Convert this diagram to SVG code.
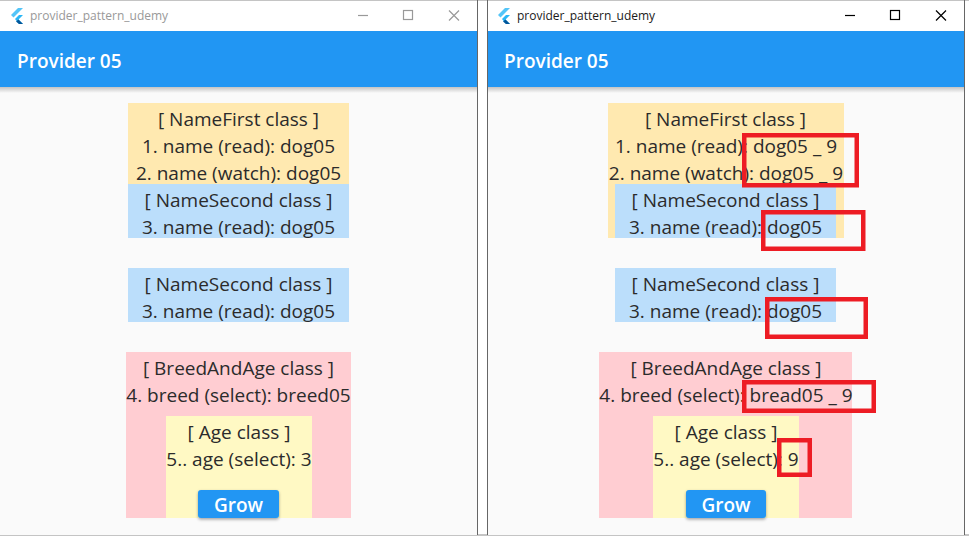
<svg xmlns="http://www.w3.org/2000/svg" width="969" height="540" viewBox="0 0 969 540">
<style>
.t{font-family:"Open Sans","Noto Sans","Liberation Sans",sans-serif;font-size:19px;fill:#2b2b2b;text-anchor:middle}
.bar{font-family:"Open Sans","Noto Sans",sans-serif;font-size:19px;font-weight:600;fill:#fff}
.btn{font-family:"Open Sans","Noto Sans",sans-serif;font-size:19px;font-weight:600;fill:#fff;text-anchor:middle}
.title{font-family:"Open Sans","Noto Sans",sans-serif;font-size:12px}
.red{fill:none;stroke:#ed1c24;stroke-width:4.5}
.y{fill:#ffe9b0}.b{fill:#bbdefb}.p{fill:#ffcdd2}.a{fill:#fff9c4}
.ctl{fill:none;stroke-width:1.2}
</style>
<defs>
<linearGradient id="sh" x1="0" y1="0" x2="0" y2="1"><stop offset="0" stop-color="#000" stop-opacity=".22"/><stop offset="1" stop-color="#000" stop-opacity="0"/></linearGradient>
<filter id="bs" x="-10%" y="-20%" width="120%" height="150%"><feDropShadow dx="0" dy="1.5" stdDeviation="1.5" flood-opacity=".35"/></filter>
<g id="logo"><path d="M11 15 L18 8 H23 L13.500 17.500Z" fill="#54c5f8"/><path d="M15 19 L19 15 H23 L18.500 19.500 L23 24 H19Z" fill="#29b6f6"/><path d="M16 21.500 L18.500 19.500 L23 24 H19Z" fill="#01579b"/></g>
</defs>
<rect width="969" height="540" fill="#ffffff"/>
<path d="M0 0H969M0 535H969" stroke="#8a8a8a" stroke-width="1" fill="none"/>
<g id="window-left">
<rect x="0" y="1" width="477" height="534" fill="#fafafa"/>
<rect x="0" y="1" width="477" height="30" fill="#fff"/>
<use href="#logo"/>
<text class="title" x="30" y="20" fill="#999">provider_pattern_udemy</text>
<g class="ctl" stroke="#999"><path d="M358 15.500H368"/><rect x="403.500" y="10.500" width="9" height="9"/><path d="M449 10.500L459 20.500M459 10.500L449 20.500"/></g>
<rect x="0" y="31" width="477" height="56" fill="#2196f3"/>
<rect x="0" y="87" width="477" height="6" fill="url(#sh)"/>
<text class="bar" x="17" y="67.500">Provider 05</text>
<path d="M477.500 0V535" stroke="#666"/>
</g>
<g id="window-right">
<rect x="488" y="1" width="476" height="534" fill="#fafafa"/>
<rect x="488" y="1" width="476" height="30" fill="#fff"/>
<use href="#logo" x="487"/>
<text class="title" x="517" y="20" fill="#1a1a1a">provider_pattern_udemy</text>
<g class="ctl" stroke="#000"><path d="M845 15.500H855"/><rect x="890.500" y="10.500" width="9" height="9"/><path d="M936 10.500L946 20.500M946 10.500L936 20.500"/></g>
<rect x="488" y="31" width="476" height="56" fill="#2196f3"/>
<rect x="488" y="87" width="476" height="6" fill="url(#sh)"/>
<text class="bar" x="504" y="67.500">Provider 05</text>
<path d="M487.500 0V535M964.500 0V535" stroke="#666"/>
</g>
<g id="l-namefirst"><rect class="y" x="128" y="103" width="221" height="81"/>
<text class="t" x="238.500" y="126">[ NameFirst class ]</text>
<text class="t" x="238.500" y="153">1. name (read): dog05</text>
<text class="t" x="238.500" y="180">2. name (watch): dog05</text></g>
<g id="l-namesecond-a"><rect class="b" x="128" y="184" width="221" height="54"/>
<text class="t" x="238.500" y="207">[ NameSecond class ]</text>
<text class="t" x="238.500" y="234">3. name (read): dog05</text></g>
<g id="l-namesecond-b"><rect class="b" x="128" y="268" width="221" height="54"/>
<text class="t" x="238.500" y="291">[ NameSecond class ]</text>
<text class="t" x="238.500" y="318">3. name (read): dog05</text></g>
<g id="l-breed"><rect class="p" x="126" y="352" width="225" height="166"/>
<text class="t" x="238.500" y="375">[ BreedAndAge class ]</text>
<text class="t" x="238.500" y="402">4. breed (select): breed05</text></g>
<g id="l-age"><rect class="a" x="166" y="416" width="146" height="102"/>
<text class="t" x="239" y="439">[ Age class ]</text>
<text class="t" x="239" y="466">5.. age (select): 3</text></g>
<g id="l-grow"><rect x="198" y="490" width="81" height="28" rx="3" fill="#2196f3" filter="url(#bs)"/>
<text class="btn" x="238.500" y="512">Grow</text></g>
<g id="r-namefirst"><rect class="y" x="608" y="103" width="236" height="135"/>
<text class="t" x="725.500" y="126">[ NameFirst class ]</text>
<text class="t" x="726" y="153">1. name (read): dog05 _ 9</text>
<text class="t" x="726" y="180">2. name (watch): dog05 _ 9</text></g>
<g id="r-namesecond-a"><rect class="b" x="615" y="184" width="221" height="54"/>
<text class="t" x="725.500" y="207">[ NameSecond class ]</text>
<text class="t" x="725.500" y="234">3. name (read): dog05</text></g>
<g id="r-namesecond-b"><rect class="b" x="615" y="268" width="221" height="54"/>
<text class="t" x="725.500" y="291">[ NameSecond class ]</text>
<text class="t" x="725.500" y="318">3. name (read): dog05</text></g>
<g id="r-breed"><rect class="p" x="599" y="352" width="253" height="166"/>
<text class="t" x="726" y="375">[ BreedAndAge class ]</text>
<text class="t" x="726" y="402">4. breed (select): bread05 _ 9</text></g>
<g id="r-age"><rect class="a" x="653" y="416" width="146" height="102"/>
<text class="t" x="726" y="439">[ Age class ]</text>
<text class="t" x="726" y="466">5.. age (select): 9</text></g>
<g id="r-grow"><rect x="686" y="490" width="80" height="28" rx="3" fill="#2196f3" filter="url(#bs)"/>
<text class="btn" x="726" y="512">Grow</text></g>
<g id="connectors"></g>
<g id="highlights">
<rect class="red" x="744.250" y="135.250" width="112.500" height="50"/>
<rect class="red" x="763.250" y="212.250" width="100" height="36.500"/>
<rect class="red" x="767.250" y="299.250" width="98.500" height="37.500"/>
<rect class="red" x="744.250" y="382.250" width="129.500" height="28.500"/>
<rect class="red" x="779.250" y="440.250" width="30.500" height="34.500"/>
</g>
</svg>
